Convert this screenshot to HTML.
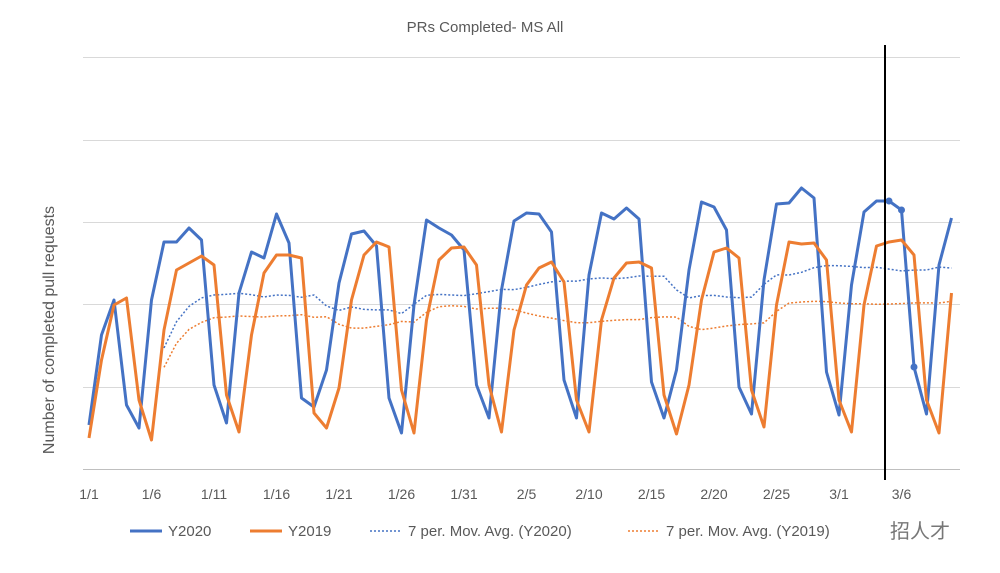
<!DOCTYPE html>
<html><head><meta charset="utf-8"><style>
html,body{margin:0;padding:0;background:#fff;}
svg{display:block;font-family:"Liberation Sans","Noto Sans CJK SC",sans-serif;}
</style></head><body>
<svg id="c" width="1000" height="573" viewBox="0 0 1000 573">
<rect width="1000" height="573" fill="#fff"/>
<text x="485" y="32" font-size="15" fill="#595959" text-anchor="middle">PRs Completed- MS All</text>
<g stroke="#d9d9d9" stroke-width="1">
<line x1="83" x2="960" y1="57.5" y2="57.5"/>
<line x1="83" x2="960" y1="140.5" y2="140.5"/>
<line x1="83" x2="960" y1="222.5" y2="222.5"/>
<line x1="83" x2="960" y1="304.5" y2="304.5"/>
<line x1="83" x2="960" y1="387.5" y2="387.5"/>
</g>
<line x1="83" x2="960" y1="469.5" y2="469.5" stroke="#bfbfbf"/>
<text transform="translate(54,330) rotate(-90)" font-size="16" fill="#595959" text-anchor="middle">Number of completed pull requests</text>
<g id="xl" font-size="14" fill="#595959" text-anchor="middle"></g>
<g id="series"></g>
<line x1="885" x2="885" y1="45" y2="480" stroke="#000" stroke-width="2"/>
<g font-size="15" fill="#595959">
<line x1="130" x2="162" y1="531" y2="531" stroke="#4472c4" stroke-width="3"/>
<text x="168" y="536">Y2020</text>
<line x1="250" x2="282" y1="531" y2="531" stroke="#ed7d31" stroke-width="3"/>
<text x="288" y="536">Y2019</text>
<line x1="370" x2="402" y1="531" y2="531" stroke="#4472c4" stroke-width="1.5" stroke-dasharray="2,2"/>
<text x="408" y="536">7 per. Mov. Avg. (Y2020)</text>
<line x1="628" x2="660" y1="531" y2="531" stroke="#ed7d31" stroke-width="1.5" stroke-dasharray="2,2"/>
<text x="666" y="536">7 per. Mov. Avg. (Y2019)</text>
<text x="890" y="538" font-size="20" fill="#777">招人才</text>
</g>
</svg>
<script>
var b=[425,335,300,405,428,300,242,242,228,240,385,423,293,252,258,214,243,398,407,370,283,234,231,246,398,433,305,220,228,235,250,385,418,290,221,213,214,232,380,418,275,213,219,208,219,382,418,370,270,202,207,230,387,414,280,204,203,188,198,372,415,285,212,201,201,210,367,414,265,218];
var o=[438,360,305,298,400,440,330,270,263,256,265,395,432,335,273,255,255,258,413,428,388,300,255,242,247,390,433,320,260,248,247,265,385,432,330,285,268,262,282,400,432,320,278,263,262,268,395,434,385,300,252,248,258,390,427,305,242,244,243,260,400,432,305,246,242,240,255,400,433,293];
var X=function(i){return 89+i*12.5;};
function pts(a,s){var r=[];for(var i=s||0;i<a.length;i++)if(a[i]!=null)r.push(X(i).toFixed(1)+','+a[i]);return r.join(' ');}
function ma(a){var r=[];for(var i=0;i<a.length;i++){if(i<6){r.push(null);continue;}var s=0;for(var j=i-6;j<=i;j++)s+=a[j];r.push((s/7).toFixed(1));}return r;}
var g=document.getElementById('series'),h='';
h+='<polyline fill="none" stroke="#4472c4" stroke-width="1.5" stroke-dasharray="2,2" points="'+pts(ma(b))+'"/>';
h+='<polyline fill="none" stroke="#ed7d31" stroke-width="1.5" stroke-dasharray="2,2" points="'+pts(ma(o))+'"/>';
h+='<polyline fill="none" stroke="#4472c4" stroke-width="3" stroke-linejoin="round" points="'+pts(b)+'"/>';
h+='<polyline fill="none" stroke="#ed7d31" stroke-width="3" stroke-linejoin="round" points="'+pts(o)+'"/>';
h+='<circle cx="'+X(64)+'" cy="201" r="3.5" fill="#4472c4"/><circle cx="'+X(65)+'" cy="210" r="3.5" fill="#4472c4"/><circle cx="'+X(66)+'" cy="367" r="3.5" fill="#4472c4"/>';
g.innerHTML=h;
var L=['1/1','1/6','1/11','1/16','1/21','1/26','1/31','2/5','2/10','2/15','2/20','2/25','3/1','3/6'],xl='';
for(var k=0;k<L.length;k++)xl+='<text x="'+X(k*5).toFixed(1)+'" y="499">'+L[k]+'</text>';
document.getElementById('xl').innerHTML=xl;
</script>
</body></html>
